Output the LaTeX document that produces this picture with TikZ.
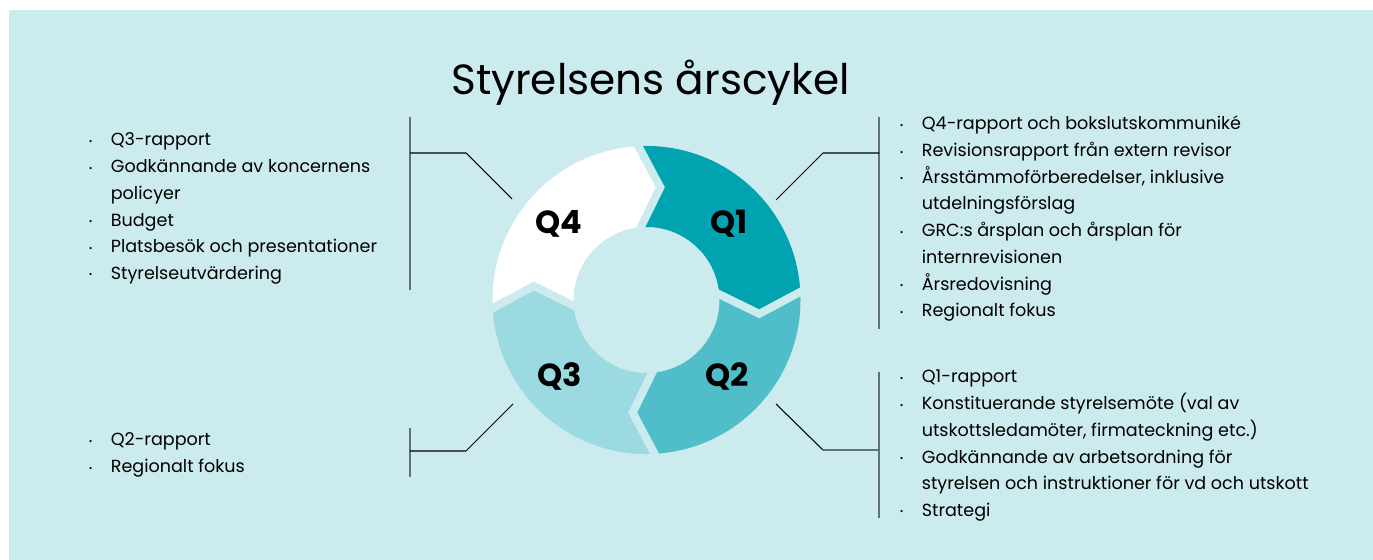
\documentclass[tikz,border=0pt]{standalone}
\usepackage{fontspec}
\setmainfont{Poppins}
\usetikzlibrary{positioning}
\definecolor{bgcyan}{HTML}{CCEBEE}
\definecolor{qone}{HTML}{00A3AF}
\definecolor{qtwo}{HTML}{4FBEC8}
\definecolor{qthree}{HTML}{9ADAE0}
\definecolor{qfour}{HTML}{FFFFFF}
\definecolor{bargray}{HTML}{627274}
\newcommand{\bul}{\makebox[0.44cm][l]{\raisebox{0.15ex}{\tiny •}}}

\begin{document}
\begin{tikzpicture}[x=0.02cm, y=0.02cm,
    bar/.style={draw=bargray, line width=1.1pt},
    link/.style={draw=black, line width=0.6pt},
    gap/.style={draw=bgcyan, line width=0.16cm},
    qlabel/.style={font=\fontsize{18.2}{20}\selectfont\bfseries},
    itemlist/.style={anchor=base west, inner sep=0pt, font=\fontsize{10}{15.18}\selectfont}]
    \useasboundingbox (0,0) rectangle (1373,560);
    \fill[bgcyan] (9,0) rectangle (1373,550);

    \begin{scope}[shift={(646.5,260)}]
        \foreach \s/\col in {90/qone, 0/qtwo, -90/qthree, 180/qfour} {
            \pgfmathsetmacro{\e}{\s-90}
            \fill[\col] (\s+4:154) arc[start angle=\s+4, end angle=\e+4, radius=154]
                -- (\e-7:113.5) -- (\e+7:73) arc[start angle=\e+7, end angle=\s+7, radius=73]
                -- (\s-7:113.5) -- cycle;
        }
        \foreach \b in {90, 0, -90, 180}
            \draw[gap] (\b+4:160) -- (\b-7:113.5) -- (\b+7:68);
    \end{scope}

    \node[font=\fontsize{24}{28}\selectfont, anchor=base] (title) at (650.5,465) {Styrelsens årscykel};

    \node[qlabel] (q1) at (729,336) {Q1};
    \node[qlabel] (q2) at (727,183) {Q2};
    \node[qlabel] (q3) at (560,184) {Q3};
    \node[qlabel] (q4) at (559,336) {Q4};

    \coordinate (q4bartop) at (410,443);
    \coordinate (q4barbot) at (410,270);
    \coordinate (q4join) at (410,407);
    \coordinate (q4knee) at (466,407);
    \coordinate (q4end) at (512,361);
    \draw[bar] (q4bartop) -- (q4barbot);
    \draw[link] (q4join) -- (q4knee) -- (q4end);

    \coordinate (q1bartop) at (879,443);
    \coordinate (q1barbot) at (879,231);
    \coordinate (q1join) at (879,407);
    \coordinate (q1knee) at (823,407);
    \coordinate (q1end) at (776,360);
    \draw[bar] (q1bartop) -- (q1barbot);
    \draw[link] (q1join) -- (q1knee) -- (q1end);

    \coordinate (q3bartop) at (410,132);
    \coordinate (q3barbot) at (410,83);
    \coordinate (q3join) at (410,109);
    \coordinate (q3knee) at (466,109);
    \coordinate (q3end) at (513,156);
    \draw[bar] (q3bartop) -- (q3barbot);
    \draw[link] (q3join) -- (q3knee) -- (q3end);

    \coordinate (q2bartop) at (879,188);
    \coordinate (q2barbot) at (879,42);
    \coordinate (q2join) at (879,110);
    \coordinate (q2knee) at (823,110);
    \coordinate (q2end) at (776,156);
    \draw[bar] (q2bartop) -- (q2barbot);
    \draw[bar] (q2join) -- (q2knee);
    \draw[link] (q2knee) -- (q2end);

    \node[itemlist] (q4list) at (88.5,414) {\begin{tabular}[t]{@{}l@{}l@{}}
        \bul & Q3-rapport\\
        \bul & Godkännande av koncernens\\
             & policyer\\
        \bul & Budget\\
        \bul & Platsbesök och presentationer\\
        \bul & Styrelseutvärdering
    \end{tabular}};
    \node[itemlist] (q3list) at (88.5,114) {\begin{tabular}[t]{@{}l@{}l@{}}
        \bul & Q2-rapport\\
        \bul & Regionalt fokus
    \end{tabular}};
    \node[itemlist] (q1list) at (899.5,430) {\begin{tabular}[t]{@{}l@{}l@{}}
        \bul & Q4-rapport och bokslutskommuniké\\
        \bul & Revisionsrapport från extern revisor\\
        \bul & Årsstämmoförberedelser, inklusive\\
             & utdelningsförslag\\
        \bul & GRC:s årsplan och årsplan för\\
             & internrevisionen\\
        \bul & Årsredovisning\\
        \bul & Regionalt fokus
    \end{tabular}};
    \node[itemlist] (q2list) at (899.5,177) {\begin{tabular}[t]{@{}l@{}l@{}}
        \bul & Q1-rapport\\
        \bul & Konstituerande styrelsemöte (val av\\
             & utskottsledamöter, firmateckning etc.)\\
        \bul & Godkännande av arbetsordning för\\
             & styrelsen och instruktioner för vd och utskott\\
        \bul & Strategi
    \end{tabular}};
\end{tikzpicture}
\end{document}
